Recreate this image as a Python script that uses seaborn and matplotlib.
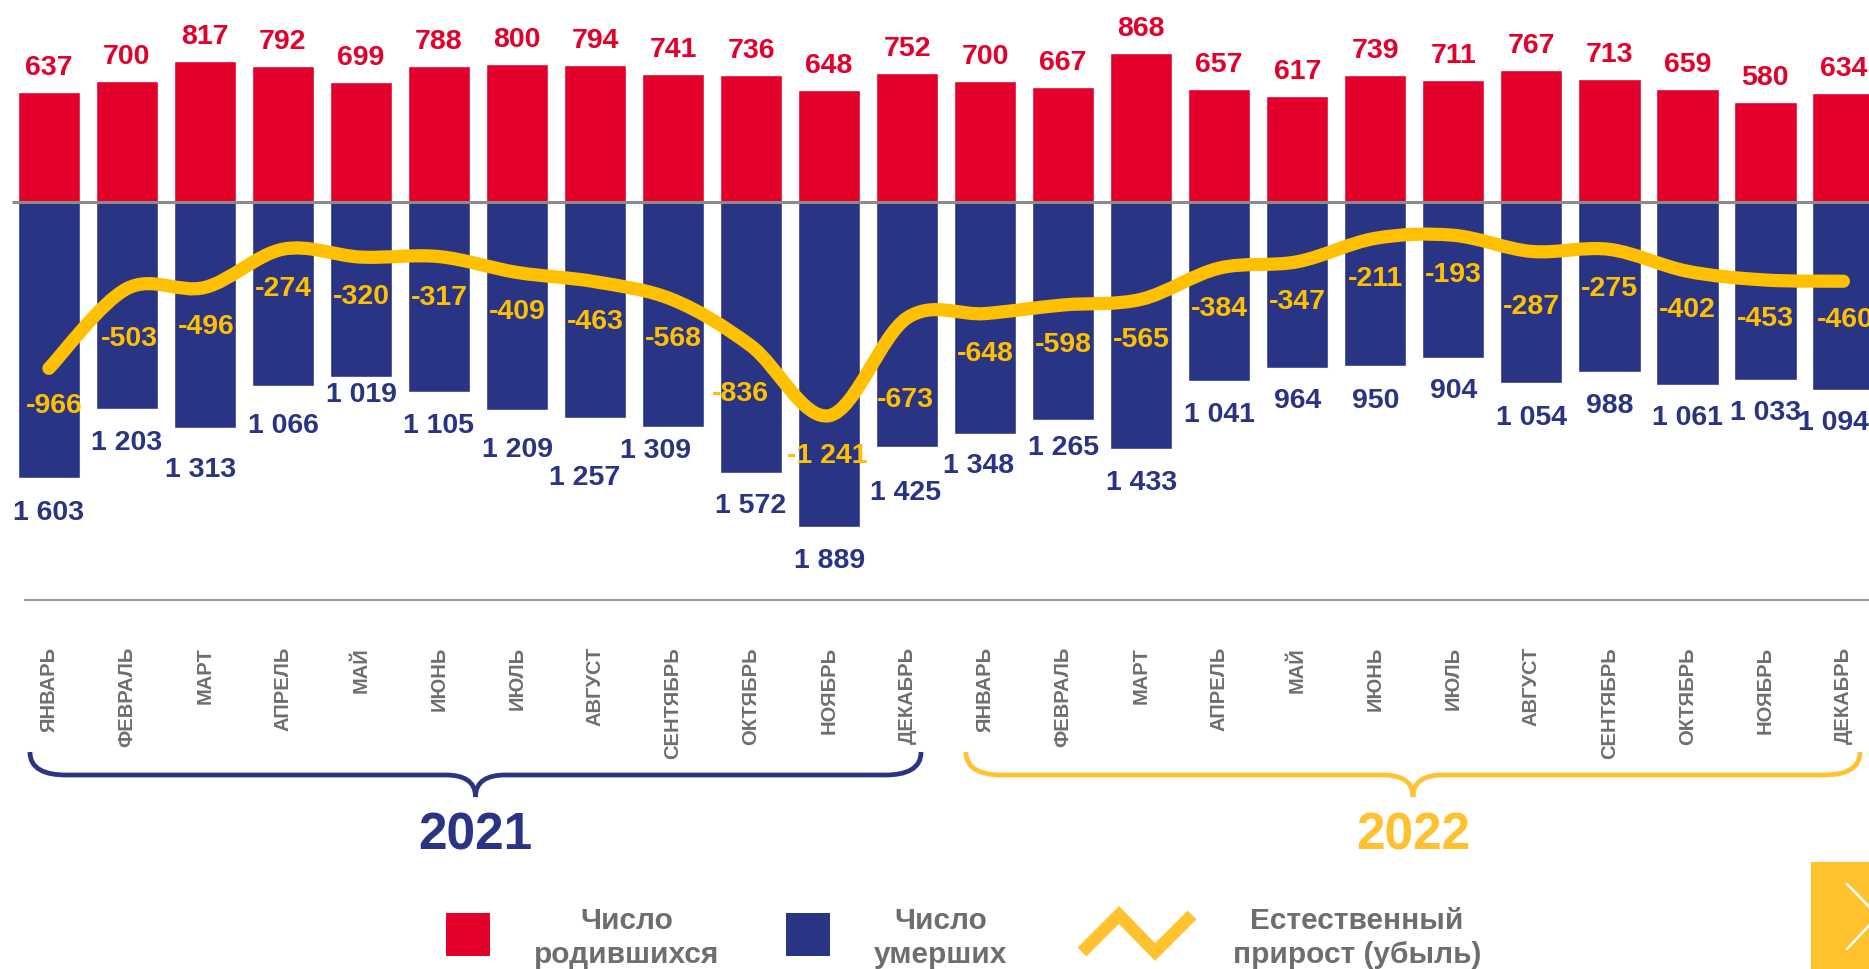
import numpy as np
import pandas as pd
import matplotlib
matplotlib.use("Agg")
import matplotlib.pyplot as plt
import seaborn as sns
from matplotlib.path import Path
from matplotlib.patches import PathPatch, Rectangle
from matplotlib.transforms import Affine2D

# ---------------- data ----------------
months = ["ЯНВАРЬ", "ФЕВРАЛЬ", "МАРТ", "АПРЕЛЬ", "МАЙ", "ИЮНЬ", "ИЮЛЬ",
          "АВГУСТ", "СЕНТЯБРЬ", "ОКТЯБРЬ", "НОЯБРЬ", "ДЕКАБРЬ"]
years = ["2021", "2022"]
births_2021 = [637, 700, 817, 792, 699, 788, 800, 794, 741, 736, 648, 752]
births_2022 = [700, 667, 868, 657, 617, 739, 711, 767, 713, 659, 580, 634]
deaths_2021 = [1603, 1203, 1313, 1066, 1019, 1105, 1209, 1257, 1309, 1572, 1889, 1425]
deaths_2022 = [1348, 1265, 1433, 1041, 964, 950, 904, 1054, 988, 1061, 1033, 1094]
natural_2021 = [-966, -503, -496, -274, -320, -317, -409, -463, -568, -836, -1241, -673]
natural_2022 = [-648, -598, -565, -384, -347, -211, -193, -287, -275, -402, -453, -460]
legend_labels = ["Число\nродившихся", "Число\nумерших", "Естественный\nприрост (убыль)"]

# ---------------- layout (pixels) ----------------
W, H = 1869, 970
X0, DX = 48.9, 78.02          # first bar centre, bar spacing
Y0, K = 203.0, 0.1722         # zero line, px per unit
death_gap = [21, 20, 28, 26, 4, 20, 26, 46, 10, 19, 20, 32,
             18, 14, 20, 20, 19, 21, 19, 21, 20, 19, 19, 19]
death_dx = [0, 0, -4, 0, 0, 0, 0, -10, -18, 0, 0, -2,
            -7, 0, 0, 0, 0, 0, 0, 0, 0, 0, 0, -10]
nat_gap = [34, 46, 36, 36, 36, 37, 36, 36, 35, 44, 36, 78,
           36, 36, 37, 37, 36, 37, 36, 52, 36, 35, 35, 35]
nat_dx = [5, 2, 1, 0, 0, 0, 0, 0, 0, -11, -2, -2,
          0, 0, 0, 0, 0, 0, 0, 0, 0, 0, 0, 2]

RED = "#E3002B"
BLUE = "#293584"
GOLD = "#FFC000"
GOLD2 = "#FFC22E"
GRAY = "#6E6E6E"

sns.set_style("white")
plt.rcParams["font.family"] = ["Liberation Sans", "DejaVu Sans"]

births = births_2021 + births_2022
deaths = deaths_2021 + deaths_2022
natural = natural_2021 + natural_2022
keys = [f"{y}-{i + 1:02d}" for y in years for i in range(12)]
df = pd.DataFrame({"key": keys, "births": births,
                   "deaths": [-d for d in deaths], "natural": natural})

fig = plt.figure(figsize=(W / 100, H / 100), dpi=100)
fig.patch.set_facecolor("white")
ax = fig.add_axes([0, 0, 1, 1])

sns.barplot(data=df, x="key", y="births", color=RED, saturation=1, width=0.8,
            errorbar=None, ax=ax, zorder=2)
sns.barplot(data=df, x="key", y="deaths", color=BLUE, saturation=1, width=0.8,
            errorbar=None, ax=ax, zorder=2)

ax.set_xlim(-X0 / DX, (W - X0) / DX)
ax.set_ylim(-(H - Y0) / K, Y0 / K)
ax.set_axis_off()

tpx = Affine2D().scale(1 / W, -1 / H).translate(0, 1) + fig.transFigure

# zero line and bottom line
ax.plot([12, W], [Y0, Y0], transform=tpx, color="#8C8C8C", lw=2.2, zorder=3,
        solid_capstyle="butt")
ax.plot([24, W], [601, 601], transform=tpx, color="#9A9A9A", lw=1.5, zorder=3,
        solid_capstyle="butt")

# smoothed natural-increase line (Bezier through the data points)
n = len(natural)
pts = np.array([[i, v] for i, v in enumerate(natural)], dtype=float)
verts = [tuple(pts[0])]
codes = [Path.MOVETO]
for i in range(n - 1):
    p_prev = pts[max(i - 1, 0)]
    p0 = pts[i]
    p1 = pts[i + 1]
    p_next = pts[min(i + 2, n - 1)]
    c1 = p0 + (p1 - p_prev) / 6.0
    c2 = p1 - (p_next - p0) / 6.0
    verts += [tuple(c1), tuple(c2), tuple(p1)]
    codes += [Path.CURVE4] * 3
ax.add_patch(PathPatch(Path(verts, codes), fill=False, edgecolor=GOLD, lw=9.5,
                       capstyle="round", joinstyle="round", zorder=4))

def fmt(v):
    return f"{v:,}".replace(",", " ")

num_fs = 20.5
for i in range(n):
    ax.annotate(fmt(births[i]), xy=(i, births[i]), xytext=(0, 18),
                textcoords="offset pixels", ha="center", va="baseline",
                color=RED, fontsize=num_fs, fontweight="bold", zorder=5)
    ax.annotate(fmt(deaths[i]), xy=(i, -deaths[i]),
                xytext=(death_dx[i], -(death_gap[i] + 20)),
                textcoords="offset pixels", ha="center", va="baseline",
                color=BLUE, fontsize=num_fs, fontweight="bold", zorder=5)
    ax.annotate(fmt(natural[i]), xy=(i, natural[i]),
                xytext=(nat_dx[i], -(nat_gap[i] + 10)),
                textcoords="offset pixels", ha="center", va="baseline",
                color=GOLD, fontsize=num_fs, fontweight="bold", zorder=5)

# month labels
ylab = (Y0 - 647) / K
for i in range(n):
    ax.text(i, ylab, months[i % 12], rotation=90, ha="center", va="top",
            color=GRAY, fontsize=14.5, fontweight="bold", zorder=5)

# braces
def brace(x0, x1, color):
    xc = (x0 + x1) / 2
    top, mid, tip = 753, 776, 798
    v = [(x0, top), (x0, top + 17), (x0 + 15, mid), (x0 + 36, mid),
         (xc - 30, mid), (xc - 12, mid), (xc, mid + 6), (xc, tip),
         (xc, mid + 6), (xc + 12, mid), (xc + 30, mid),
         (x1 - 36, mid), (x1 - 15, mid), (x1, top + 17), (x1, top)]
    c = [Path.MOVETO, Path.CURVE4, Path.CURVE4, Path.CURVE4,
         Path.LINETO, Path.CURVE4, Path.CURVE4, Path.CURVE4,
         Path.CURVE4, Path.CURVE4, Path.CURVE4,
         Path.LINETO, Path.CURVE4, Path.CURVE4, Path.CURVE4]
    ax.add_patch(PathPatch(Path(v, c), fill=False, edgecolor=color, lw=3.4,
                           transform=tpx, capstyle="butt", zorder=5,
                           clip_on=False))

brace(30, 921, BLUE)
brace(966, 1860, GOLD2)
ax.text(475, 836, years[0], transform=tpx, ha="center", va="center",
        color=BLUE, fontsize=37, fontweight="bold")
ax.text(1413, 836, years[1], transform=tpx, ha="center", va="center",
        color=GOLD2, fontsize=37, fontweight="bold")

# legend
ax.add_patch(Rectangle((446, 914), 44, 43, transform=tpx, facecolor=RED,
                       edgecolor="none", clip_on=False))
ax.add_patch(Rectangle((786, 914), 44, 43, transform=tpx, facecolor=BLUE,
                       edgecolor="none", clip_on=False))
ax.plot([1082, 1119, 1155, 1192], [953, 916, 953, 916], transform=tpx,
        color=GOLD2, lw=9, solid_joinstyle="miter", solid_capstyle="butt",
        clip_on=False)
for xc, lab in zip([627, 941, 1357], legend_labels):
    ax.text(xc, 938, lab, transform=tpx, ha="center", va="center",
            multialignment="center", color=GRAY, fontsize=21.5,
            fontweight="bold", linespacing=1.25)

# corner navigation box
ax.add_patch(Rectangle((1811, 863), 60, 107, transform=tpx, facecolor=GOLD2,
                       edgecolor="none", clip_on=False))
ax.plot([1847, 1878, 1847], [885, 917, 950], transform=tpx, color="white",
        lw=1.8, clip_on=False)

fig.savefig("out.png", dpi=100, facecolor="white")
